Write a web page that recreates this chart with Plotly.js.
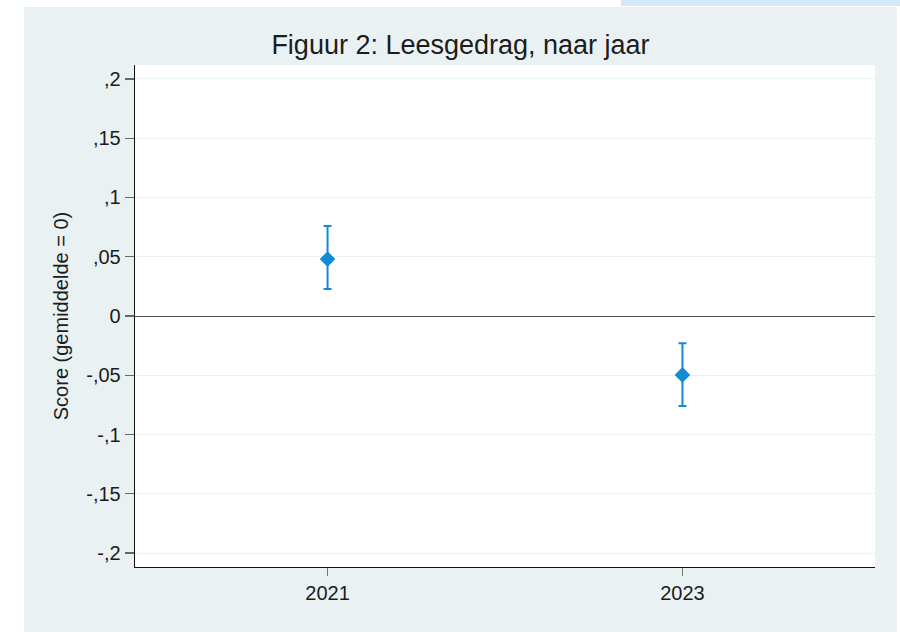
<!DOCTYPE html>
<html>
<head>
<meta charset="utf-8">
<script src="https://cdn.plot.ly/plotly-3.0.1.min.js"></script>
<style>
  html, body { margin: 0; padding: 0; background: #ffffff; }
  #wrap { position: relative; width: 900px; height: 632px; overflow: hidden; }
  #panel { position: absolute; left: 24px; top: 7px; width: 873px; height: 625px; background: #e9f1f3; }
  #strip { position: absolute; left: 621px; top: 0px; width: 279px; height: 6px; background: #d3eaf6; }
  #chart { position: absolute; left: 0; top: 0; width: 900px; height: 632px; }
</style>
</head>
<body>
<div id="wrap">
  <div id="strip"></div>
  <div id="panel"></div>
  <div id="chart"></div>
</div>
<script>
const years = [2021, 2023];
const yearLabels = ['2021', '2023'];
const means = [0.048, -0.0497];
const ciLower = [0.0228, -0.0759];
const ciUpper = [0.0759, -0.023];
const yTickVals = [0.2, 0.15, 0.1, 0.05, 0, -0.05, -0.1, -0.15, -0.2];
const yTickText = [',2', ',15', ',1', ',05', '0', '-,05', '-,1', '-,15', '-,2'];

const errPlus = means.map((m, i) => ciUpper[i] - m);
const errMinus = means.map((m, i) => m - ciLower[i]);

const color = '#128bd4';
const font = 'Liberation Sans, Arial, sans-serif';

const trace = {
  type: 'scatter',
  mode: 'markers',
  x: years,
  y: means,
  marker: { symbol: 'diamond', size: 12, color: color },
  error_y: {
    type: 'data', symmetric: false,
    array: errPlus, arrayminus: errMinus,
    color: color, thickness: 2, width: 4
  },
  hoverinfo: 'skip',
  showlegend: false
};

const layout = {
  width: 900, height: 632,
  paper_bgcolor: 'rgba(0,0,0,0)',
  plot_bgcolor: '#ffffff',
  margin: { l: 134.5, r: 24.5, t: 65, b: 64.7, pad: 0 },
  title: {
    text: 'Figuur 2: Leesgedrag, naar jaar',
    font: { family: font, size: 27, color: '#1c1c1c' },
    xref: 'container', x: 460.5 / 900, xanchor: 'center',
    yref: 'container', y: 1 - 45 / 632, yanchor: 'middle'
  },
  xaxis: {
    range: [2019.915, 2024.085],
    tickvals: years, ticktext: yearLabels,
    showgrid: false, zeroline: false,
    showline: true, linecolor: '#111111', linewidth: 1.3,
    ticks: 'outside', ticklen: 8, tickcolor: '#777777', tickwidth: 1.3,
    tickfont: { family: font, size: 20, color: '#1c1c1c' },
    fixedrange: true
  },
  yaxis: {
    range: [-0.2118, 0.2118],
    tickvals: yTickVals, ticktext: yTickText,
    showgrid: true, gridcolor: '#e9f1f3', gridwidth: 1,
    zeroline: true, zerolinecolor: '#555555', zerolinewidth: 1,
    showline: true, linecolor: '#111111', linewidth: 1.3,
    ticks: 'outside', ticklen: 9, tickcolor: '#666666', tickwidth: 1.3,
    tickfont: { family: font, size: 20, color: '#1c1c1c' },
    title: { text: 'Score (gemiddelde = 0)', font: { family: font, size: 20, color: '#1c1c1c' }, standoff: 12 },
    fixedrange: true
  }
};

Plotly.newPlot('chart', [trace], layout, { displayModeBar: false, staticPlot: true });
</script>
</body>
</html>
